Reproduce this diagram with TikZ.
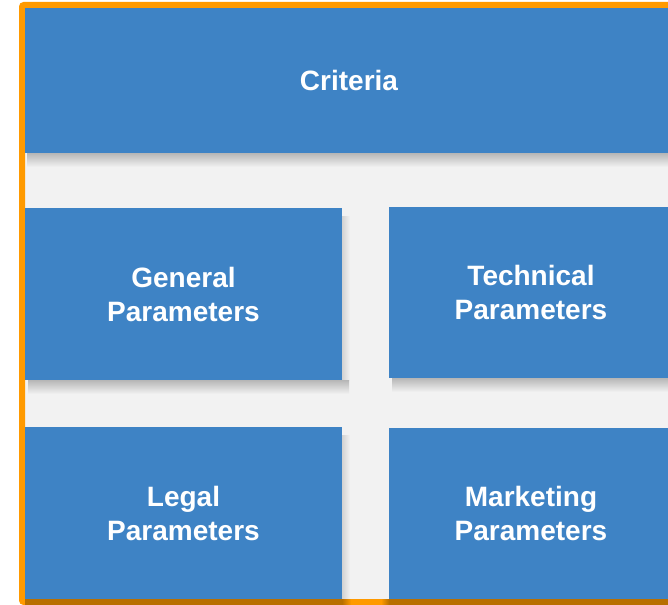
\documentclass[tikz,border=0pt]{standalone}
\usepackage{fontspec}
\setmainfont{Liberation Sans}
\usetikzlibrary{backgrounds}
\definecolor{boxblue}{HTML}{3E83C5}
\definecolor{bggray}{HTML}{F2F2F2}
\definecolor{frameorange}{HTML}{FF9A00}
\definecolor{framebrown}{HTML}{B86F00}
\definecolor{shadowgray}{HTML}{B6B6B6}
\definecolor{shadowside}{HTML}{D2D2D2}
\tikzset{
  box/.style={rectangle, fill=boxblue, draw=none, inner sep=0pt, outer sep=0pt,
    text=white, font=\bfseries\fontsize{28}{34}\selectfont, align=center},
  frame/.style={draw=frameorange, line width=6pt, rounded corners=2pt},
  shadowbottom/.style={draw=none, top color=shadowgray, bottom color=bggray},
  shadowright/.style={draw=none, left color=shadowside, right color=bggray}
}
\begin{document}
\begin{tikzpicture}[x=1pt,y=-1pt]
\clip (0,0) rectangle (668,604);
% boxes
\node[box, minimum width=648pt, minimum height=145pt] (crit) at (349,80.5) {Criteria};
\node[box, minimum width=317pt, minimum height=172pt] (gen) at (183.5,294) {General\\Parameters};
\node[box, minimum width=284pt, minimum height=171pt] (tech) at (531,292.5) {Technical\\Parameters};
\node[box, minimum width=317pt, minimum height=172pt] (legal) at (183.5,513) {Legal\\Parameters};
\node[box, minimum width=284pt, minimum height=171pt] (mkt) at (531,513.5) {Marketing\\Parameters};
\begin{scope}[on background layer]
\fill[white] (0,0) rectangle (668,604);
\fill[bggray] (22,5) rectangle (690,602);
% shadows
\shade[shadowright] ([yshift=-8pt]gen.north east) rectangle ([xshift=8pt]gen.south east);
\shade[shadowright] ([yshift=-8pt]legal.north east) rectangle ([xshift=8pt,yshift=-6pt]legal.south east);
\shade[shadowbottom] ([xshift=2pt]crit.south west) rectangle ([xshift=20pt,yshift=-14pt]crit.south east);
\shade[shadowbottom] ([xshift=3pt]gen.south west) rectangle ([xshift=7pt,yshift=-14pt]gen.south east);
\shade[shadowbottom] ([xshift=3pt]tech.south west) rectangle ([xshift=20pt,yshift=-14pt]tech.south east);
% frame
\draw[frame] (22,5) rectangle (690,602);
\fill[framebrown] (legal.south west) rectangle ([yshift=-6pt]legal.south east);
\fill[framebrown] (mkt.south west) rectangle ([xshift=20pt,yshift=-6pt]mkt.south east);
\shade[left color=framebrown, right color=frameorange] (legal.south east) rectangle ([xshift=9pt,yshift=-6pt]legal.south east);
\shade[left color=frameorange, right color=framebrown] ([xshift=-8pt]mkt.south west) rectangle ([yshift=-6pt]mkt.south west);
\end{scope}
\end{tikzpicture}
\end{document}
